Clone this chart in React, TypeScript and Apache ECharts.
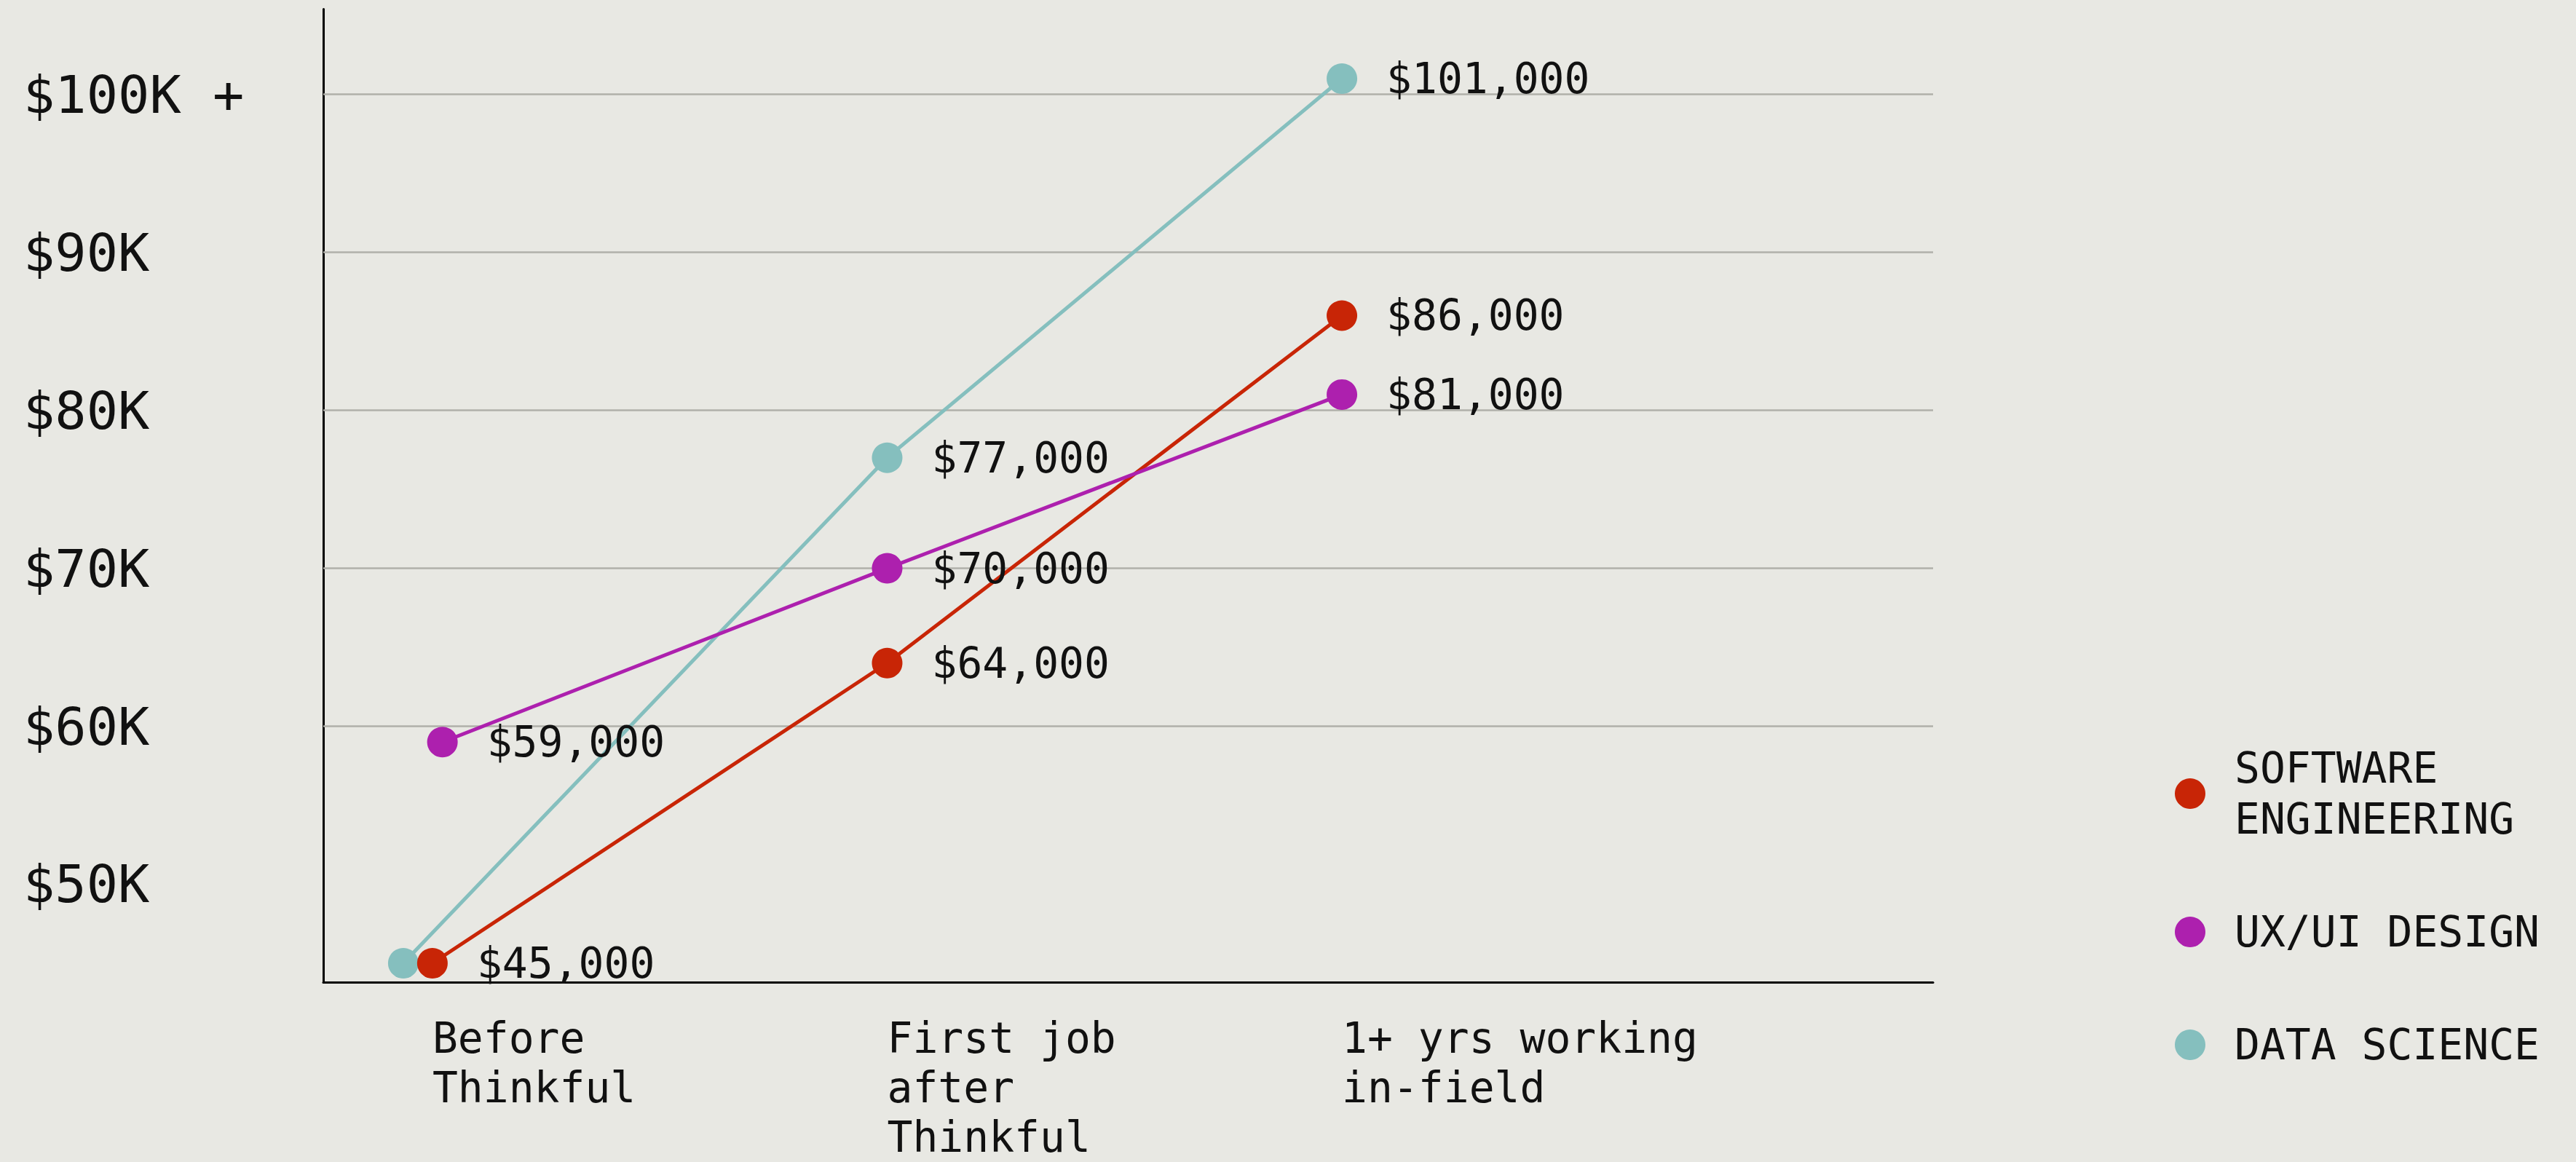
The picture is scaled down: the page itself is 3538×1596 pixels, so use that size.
import React, { useEffect, useRef } from 'react';
import * as echarts from 'echarts';

// ---------- data ----------
const stages = ['Before\nThinkful', 'First job\nafter\nThinkful', '1+ yrs working\nin-field'];
const softwareEngineering = [45000, 64000, 86000];
const uxUiDesign = [59000, 70000, 81000];
const dataScience = [45000, 77000, 101000];
const yTickValues = [50000, 60000, 70000, 80000, 90000, 100000];
const yTickLabels = ['$50K', '$60K', '$70K', '$80K', '$90K', '$100K +'];
const gridValues = [60000, 70000, 80000, 90000, 100000];
const legendOrder = ['SOFTWARE ENGINEERING', 'UX/UI DESIGN', 'DATA SCIENCE'];

// ---------- style ----------
const FONT = '"DejaVu Sans Mono", "Liberation Mono", monospace';
const BG = '#E8E8E3';
const TEXT = '#111111';
const GRID_COLOR = '#B0B0AA';

const seriesDefs = [
  { name: 'DATA SCIENCE', values: dataScience, color: '#85BFBE', nudge: -0.064, hideFirstLabel: true },
  { name: 'SOFTWARE ENGINEERING', values: softwareEngineering, color: '#C82506', nudge: 0, hideFirstLabel: false },
  { name: 'UX/UI DESIGN', values: uxUiDesign, color: '#AD20AE', nudge: 0.022, hideFirstLabel: false },
];

const fmtMoney = (v: number) => '$' + Math.round(v).toLocaleString('en-US');

export default function App() {
  const ref = useRef<HTMLDivElement>(null);

  useEffect(() => {
    document.body.style.margin = '0';
    document.body.style.background = BG;
    const chart = echarts.init(ref.current!, undefined, { renderer: 'svg' });

    const series: any[] = seriesDefs.map((s, si) => ({
      name: s.name,
      type: 'line',
      z: 2 + si,
      data: s.values.map((v, i) => {
        const item: any = { value: [i + (i === 0 ? s.nudge : 0), v] };
        if (i === 0 && s.hideFirstLabel) item.label = { show: false };
        return item;
      }),
      symbol: 'circle',
      symbolSize: 42,
      lineStyle: { color: s.color, width: 5 },
      itemStyle: { color: s.color },
      label: {
        show: true,
        position: 'right',
        distance: 40,
        formatter: (p: any) => fmtMoney(p.value[1]),
        fontFamily: FONT,
        fontSize: 58,
        color: TEXT,
      },
      emphasis: { disabled: true },
    }));

    series[0].markLine = {
      silent: true,
      symbol: 'none',
      z: 1,
      label: { show: false },
      lineStyle: { color: GRID_COLOR, width: 2.5, type: 'solid' },
      emphasis: { disabled: true },
      data: gridValues.map((v) => ({ yAxis: v })),
    };

    chart.setOption({
      animation: false,
      backgroundColor: BG,
      grid: { left: 444, right: 883, top: 12.5, bottom: 234.5, containLabel: false },
      xAxis: {
        type: 'value',
        min: -0.24,
        max: 3.3,
        interval: 0.04,
        axisLine: { show: true, onZero: false, lineStyle: { color: '#000', width: 3 } },
        axisTick: { show: false },
        splitLine: { show: false },
        axisLabel: {
          show: true,
          formatter: (v: number) => {
            const r = Math.round(v);
            if (Math.abs(v - r) < 1e-6 && r >= 0 && r < stages.length) return stages[r];
            return '';
          },
          align: 'left',
          verticalAlign: 'top',
          margin: 43,
          fontFamily: FONT,
          fontSize: 58,
          lineHeight: 68,
          color: TEXT,
          showMinLabel: false,
          showMaxLabel: false,
        },
      },
      yAxis: {
        type: 'value',
        min: 43800,
        max: 105400,
        interval: 200,
        axisLine: { show: true, onZero: false, lineStyle: { color: '#000', width: 3 } },
        axisTick: { show: false },
        splitLine: { show: false },
        axisLabel: {
          show: true,
          formatter: (v: number) => {
            const idx = yTickValues.indexOf(Math.round(v));
            return idx >= 0 ? yTickLabels[idx] : '';
          },
          align: 'left',
          margin: 412,
          fontFamily: FONT,
          fontSize: 72,
          color: TEXT,
        },
      },
      legend: {
        orient: 'vertical',
        left: 2987,
        top: 1020,
        padding: 0,
        itemGap: 85,
        itemWidth: 42,
        itemHeight: 42,
        icon: 'circle',
        selectedMode: false,
        data: legendOrder,
        formatter: (name: string) => (name === 'SOFTWARE ENGINEERING' ? 'SOFTWARE\nENGINEERING' : name),
        textStyle: {
          fontFamily: FONT,
          fontSize: 58,
          lineHeight: 70,
          color: TEXT,
          padding: [0, 0, 0, 35],
        },
      },
      series,
    });

    return () => chart.dispose();
  }, []);

  return <div ref={ref} style={{ width: 3538, height: 1596, background: BG }} />;
}
